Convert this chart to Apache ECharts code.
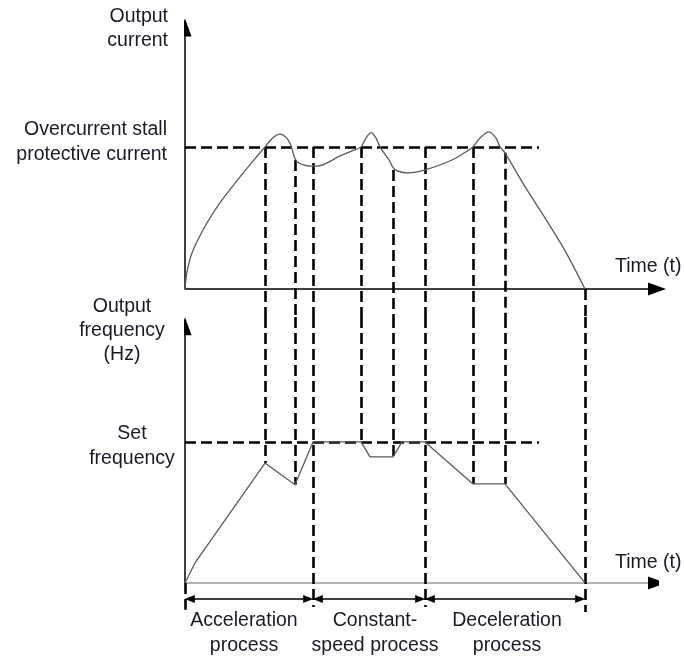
<!DOCTYPE html>
<html>
<head>
<meta charset="utf-8">
<title>Overcurrent stall protection</title>
<script src="https://cdn.jsdelivr.net/npm/echarts@6/dist/echarts.min.js"></script>
<style>
  html, body { margin: 0; padding: 0; background: #fff; }
  #chart { width: 684px; height: 659px; }
</style>
</head>
<body>
<div id="chart"></div>
<script>
// time in arbitrary units, current with stall level = 100, frequency with set value = 50 Hz
const currentTime = [0, 0.05, 0.175, 0.45, 0.8, 1.375, 1.7, 2.0, 2.2, 2.375, 2.55, 2.65, 2.72, 2.8, 3.0, 3.3, 3.9, 4.2, 4.4, 4.52, 4.65, 4.78, 4.875, 5.1, 5.25, 5.6, 6.0, 6.675, 7.1, 7.2, 7.4, 7.6, 7.78, 7.875, 8.0, 8.5, 9.0, 9.5, 10.0]
const currentValue = [0, 12, 25.4, 41.5, 57.7, 78.9, 90, 100, 106.5, 109, 106, 101, 94, 89.5, 87, 86.4, 94, 97.5, 100, 106, 110, 106, 100, 90.8, 84, 81.7, 83.8, 90.8, 97.9, 100, 107, 110.6, 106, 100, 95.8, 72, 50, 27, 0]

const freqTime = [0, 0.25, 2.0, 2.75, 3.2, 4.4, 4.625, 5.2, 5.425, 6.0, 7.2, 8.0, 10.0]
const freqValue = [0, 7.1, 42.5, 34.8, 50, 50, 44.7, 44.7, 50, 50, 35.1, 35.1, 0]

const stallCurrent = 100
const setFrequency = 50
const guideEnd = 8.85

// vertical guides: where they start on the current plot and end on the frequency plot
const guideTimes = [2.0, 2.75, 3.2, 4.4, 5.2, 6.0, 7.2, 8.0, 10.0]
const guideCurrentFrom = [100, 90.8, 100, 100, 83.8, 100, 100, 95.8, 0]
const guideFreqTo = [42.5, 34.8, -8.5, 50, 44.7, -8.5, 35.1, 35.1, -10.3]

const processBounds = [0, 3.2, 6.0, 10.0]
const processNames = ['Acceleration\nprocess', 'Constant-\nspeed process', 'Deceleration\nprocess']
const processLabelAt = [1.475, 4.75, 8.05]

const currentMin = -19.7, currentMax = 190
const freqMin = -10.3, freqMax = 94.3
const timeMax = 11.8

const font = "'Liberation Sans', Arial, sans-serif"
const textColor = '#1a1a28'
const dash = [11, 5]

let myChart = echarts.init(document.getElementById('chart'))

let zip = (xs, ys) => xs.map((x, i) => [x, ys[i]])

let topGuides = [{ coords: [[0, stallCurrent], [guideEnd, stallCurrent]] }]
let bottomGuides = [
  { coords: [[0, setFrequency], [guideEnd, setFrequency]] },
  { coords: [[0, 0], [0, -9.5]] }
]
guideTimes.forEach((t, i) => {
  topGuides.push({ coords: [[t, guideCurrentFrom[i]], [t, currentMin]] })
  bottomGuides.push({ coords: [[t, freqMax], [t, guideFreqTo[i]]] })
})

// double headed arrows under the time axis (tips land on the bounds)
let inset = 0.12
let processArrows = []
for (let i = 0; i < processBounds.length - 1; i++) {
  processArrows.push({ coords: [[processBounds[i] + inset, -5.67], [processBounds[i + 1] - inset, -5.67]] })
}

let textEl = (x, y, text, align) => ({
  type: 'text', x: x, y: y,
  style: { text: text, font: '19.5px ' + font, fill: textColor, align: align, verticalAlign: 'middle', lineHeight: 24 }
})

// rich styles for the level labels; "gap" rows nudge the block off-centre
let levelRich = {
  t: { color: textColor, fontFamily: font, fontSize: 19.5, lineHeight: 25 },
  gapBig: { fontSize: 1, lineHeight: 9 },
  gapSmall: { fontSize: 1, lineHeight: 9 }
}

myChart.setOption({
  animation: false,
  grid: [
    { left: 185, top: 19, width: 472, height: 298, outerBoundsMode: 'none' },
    { left: 185, top: 317, width: 472, height: 295, outerBoundsMode: 'none' }
  ],
  xAxis: [
    {
      gridIndex: 0, type: 'value', min: 0, max: timeMax,
      axisLine: { onZero: true, lineStyle: { color: '#000', width: 1.5 }, symbol: ['none', 'triangle'], symbolSize: [13, 18] },
      axisTick: { show: false }, axisLabel: { show: false }, splitLine: { show: false }
    },
    {
      gridIndex: 1, type: 'value', min: 0, max: timeMax,
      axisLine: { onZero: true, lineStyle: { color: '#9a9a9a', width: 1.5 } },
      axisTick: { show: false }, splitLine: { show: false },
      axisLabel: {
        customValues: processLabelAt,
        margin: -4,
        color: textColor, fontFamily: font, fontSize: 19.5, lineHeight: 25,
        formatter: (v) => {
          let k = 0
          processLabelAt.forEach((p, i) => { if (Math.abs(p - v) < Math.abs(processLabelAt[k] - v)) k = i })
          return processNames[k]
        }
      }
    }
  ],
  yAxis: [
    {
      gridIndex: 0, type: 'value', min: currentMin, max: currentMax,
      axisLine: { show: false }, axisTick: { show: false }, splitLine: { show: false },
      axisLabel: {
        customValues: [stallCurrent], margin: 18, align: 'right',
        rich: levelRich,
        formatter: () => '{t|Overcurrent stall}\n{t|protective current}\n{gapBig| }'
      }
    },
    {
      gridIndex: 1, type: 'value', min: freqMin, max: freqMax,
      axisLine: { show: false }, axisTick: { show: false }, splitLine: { show: false },
      axisLabel: {
        customValues: [setFrequency], margin: 53, align: 'center',
        rich: levelRich,
        formatter: () => '{gapSmall| }\n{t|Set}\n{t|frequency}'
      }
    }
  ],
  graphic: [
    textEl(168, 29, 'Output\ncurrent', 'right'),
    textEl(122, 331, 'Output\nfrequency\n(Hz)', 'center'),
    textEl(615, 267, 'Time (t)', 'left'),
    textEl(615, 563, 'Time (t)', 'left')
  ],
  series: [
    {
      name: 'Output current', type: 'line', xAxisIndex: 0, yAxisIndex: 0,
      data: zip(currentTime, currentValue), smooth: 0.3, showSymbol: false,
      lineStyle: { color: '#5a5a5a', width: 1.3 }
    },
    {
      name: 'Output frequency', type: 'line', xAxisIndex: 1, yAxisIndex: 1,
      data: zip(freqTime, freqValue), showSymbol: false,
      lineStyle: { color: '#5a5a5a', width: 1.3 }
    },
    {
      type: 'lines', coordinateSystem: 'cartesian2d', xAxisIndex: 0, yAxisIndex: 0,
      lineStyle: { color: '#000', width: 2.6, type: dash, opacity: 1 },
      data: topGuides
    },
    {
      type: 'lines', coordinateSystem: 'cartesian2d', xAxisIndex: 1, yAxisIndex: 1,
      lineStyle: { color: '#000', width: 2.6, type: dash, opacity: 1 },
      data: bottomGuides
    },
    {
      // vertical axes with arrow heads
      type: 'lines', coordinateSystem: 'cartesian2d', xAxisIndex: 0, yAxisIndex: 0,
      symbol: ['none', 'triangle'], symbolSize: [[13, 18], [13, 18]],
      lineStyle: { color: '#000', width: 1.5, opacity: 1 },
      data: [{ coords: [[0, 0], [0, 184]] }]
    },
    {
      type: 'lines', coordinateSystem: 'cartesian2d', xAxisIndex: 1, yAxisIndex: 1,
      symbol: ['none', 'triangle'], symbolSize: [[13, 18], [13, 18]],
      lineStyle: { color: '#000', width: 1.5, opacity: 1 },
      data: [{ coords: [[0, 0], [0, 91]] }, { coords: [[timeMax - 0.1, 0], [timeMax, 0]] }]
    },
    {
      type: 'lines', coordinateSystem: 'cartesian2d', xAxisIndex: 1, yAxisIndex: 1,
      symbol: ['triangle', 'triangle'], symbolSize: [[8, 10], [8, 10]],
      lineStyle: { color: '#000', width: 1.5, opacity: 1 },
      data: processArrows
    }
  ]
})

window.addEventListener('resize', () => {
  myChart.resize()
})
</script>
</body>
</html>
